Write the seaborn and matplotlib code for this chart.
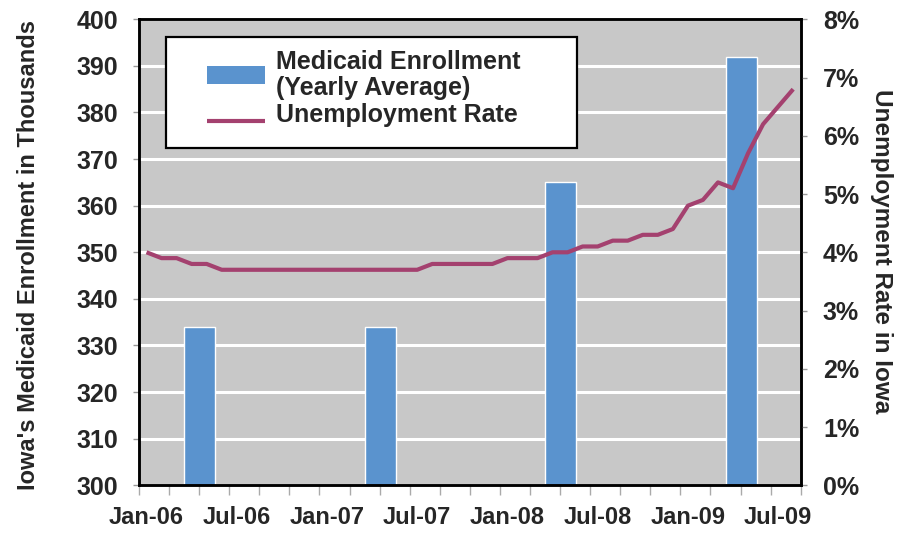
import matplotlib
matplotlib.use("Agg")
import matplotlib.pyplot as plt
import seaborn as sns
import numpy as np
from matplotlib.patches import Patch, Rectangle
from matplotlib.lines import Line2D
from matplotlib.legend_handler import HandlerBase
from matplotlib.ticker import FixedLocator, FuncFormatter, MultipleLocator

# ---------------- data ----------------
bar_years = [2006, 2007, 2008, 2009]
enrollment = [334, 334, 365, 392]          # thousands (yearly average)

# monthly unemployment rate, Jan-06 .. Aug-09 (%)
unemployment = [4.0, 3.9, 3.9, 3.8, 3.8, 3.7, 3.7, 3.7, 3.7, 3.7, 3.7, 3.7,
                3.7, 3.7, 3.7, 3.7, 3.7, 3.7, 3.7, 3.8, 3.8, 3.8, 3.8, 3.8,
                3.9, 3.9, 3.9, 4.0, 4.0, 4.1, 4.1, 4.2, 4.2, 4.3, 4.3, 4.4,
                4.8, 4.9, 5.2, 5.1, 5.7, 6.2, 6.5, 6.8]
tick_labels = ["Jan-06", "Jul-06", "Jan-07", "Jul-07",
               "Jan-08", "Jul-08", "Jan-09", "Jul-09"]

# ---------------- style ----------------
sns.set_style("white")
plt.rcParams['font.family'] = ['Liberation Sans', 'DejaVu Sans']
plt.rcParams['font.weight'] = 'bold'

BAR = '#5A93CE'
LINE = '#A4416F'
BG = '#C8C8C8'


class ShiftedHandler(HandlerBase):
    """Legend handle drawn slightly below the text centre (as in the original)."""
    def __init__(self, shift, kind):
        super().__init__()
        self.shift = shift
        self.kind = kind

    def create_artists(self, legend, orig_handle, xdescent, ydescent,
                       width, height, fontsize, trans):
        dy = self.shift * fontsize
        if self.kind == 'patch':
            art = Rectangle((-xdescent, -ydescent - dy), width, height,
                            facecolor=orig_handle.get_facecolor(),
                            edgecolor='none', transform=trans)
        elif self.kind == 'line':
            y = (height - ydescent) / 2 - dy
            art = Line2D([-xdescent, -xdescent + width], [y, y],
                         color=orig_handle.get_color(),
                         linewidth=orig_handle.get_linewidth(),
                         solid_capstyle='butt', transform=trans)
        else:
            art = Rectangle((0, 0), 0, 0, visible=False, transform=trans)
        return [art]


fig = plt.figure(figsize=(9.05, 5.35), dpi=100)
ax = fig.add_axes([139/905, 1-485.3/535, 661.7/905, 466/535])
ax.set_facecolor(BG)

month_idx = np.arange(len(unemployment))
bar_x = [(y - bar_years[0]) * 12 + 3.55 for y in bar_years]

sns.barplot(x=bar_x, y=enrollment, native_scale=True, width=2.05/12,
            color=BAR, saturation=1, ax=ax, zorder=2)
ax.set_ylim(300, 400)
ax.set_xlim(-0.5, len(unemployment) - 0.5)
ax.yaxis.set_major_locator(MultipleLocator(10))
ax.grid(axis='y', color='white', linewidth=2.2)
ax.grid(axis='x', visible=False)
ax.set_axisbelow(True)

ax2 = ax.twinx()
sns.lineplot(x=month_idx, y=unemployment, color=LINE, linewidth=3.0, ax=ax2,
             solid_capstyle='butt')
ax2.set_ylim(0, 8)
ax2.set_xlim(-0.5, len(unemployment) - 0.5)
ax2.yaxis.set_major_locator(MultipleLocator(1))
ax2.yaxis.set_major_formatter(FuncFormatter(lambda v, p: f"{v:.0f}%"))
ax2.grid(False)

# x ticks
ax.xaxis.set_major_locator(FixedLocator(list(range(0, len(unemployment), 6))))
ax.set_xticklabels(tick_labels)
ax.xaxis.set_minor_locator(FixedLocator(list(np.arange(-0.5, len(unemployment), 2))))
ax.tick_params(axis='x', which='major', length=0, pad=15, labelsize=17)
ax.tick_params(axis='x', which='minor', length=7, color='#AAAAAA', width=1, bottom=True)
ax.tick_params(axis='y', which='major', length=4, color='#999999', width=1,
               pad=11, labelsize=18, left=True)
ax2.tick_params(axis='y', which='major', length=4, color='#999999', width=1,
                pad=12, labelsize=18, right=True)
ax2.tick_params(axis='x', bottom=False, labelbottom=False)
for lab in ax.get_xticklabels() + ax.get_yticklabels() + ax2.get_yticklabels():
    lab.set_fontweight('bold')

for a in (ax, ax2):
    a.set_xlabel("")
    a.set_ylabel("")
    for s in a.spines.values():
        s.set_visible(True)
        s.set_color('black')
        s.set_linewidth(1.8)

fig.text(29/905, 1-255/535, "Iowa's Medicaid Enrollment in Thousands",
         rotation=90, ha='center', va='center', fontsize=17, fontweight='bold')
fig.text(881/905, 1-251/535, "Unemployment Rate in Iowa",
         rotation=270, ha='center', va='center', fontsize=17.5, fontweight='bold')

# legend box
ax2.add_patch(Rectangle((0.0408, 0.7238), 0.662-0.0408, 0.9614-0.7238,
                        transform=ax2.transAxes, facecolor='white',
                        edgecolor='black', linewidth=1.6, zorder=4))
h_bar = Patch(facecolor=BAR, edgecolor='none')
h_blank = Line2D([], [], linestyle='none')
h_line = Line2D([], [], color=LINE, linewidth=3.0)
handles = [h_bar, h_blank, h_line]
labels = ["Medicaid Enrollment", "(Yearly Average)", "Unemployment Rate"]
leg = ax2.legend(handles, labels, loc='upper left',
                 bbox_to_anchor=((207-139)/661.7, (485.3-50)/466),
                 frameon=False, borderpad=0, borderaxespad=0,
                 handlelength=2.3, handleheight=0.72, handletextpad=0.45,
                 labelspacing=0.1, prop={'size': 18, 'weight': 'bold'},
                 handler_map={h_bar: ShiftedHandler(0.6, 'patch'),
                              h_blank: ShiftedHandler(0, 'blank'),
                              h_line: ShiftedHandler(0.33, 'line')})
leg.set_zorder(6)

fig.savefig("out.png", dpi=100, facecolor='white')
